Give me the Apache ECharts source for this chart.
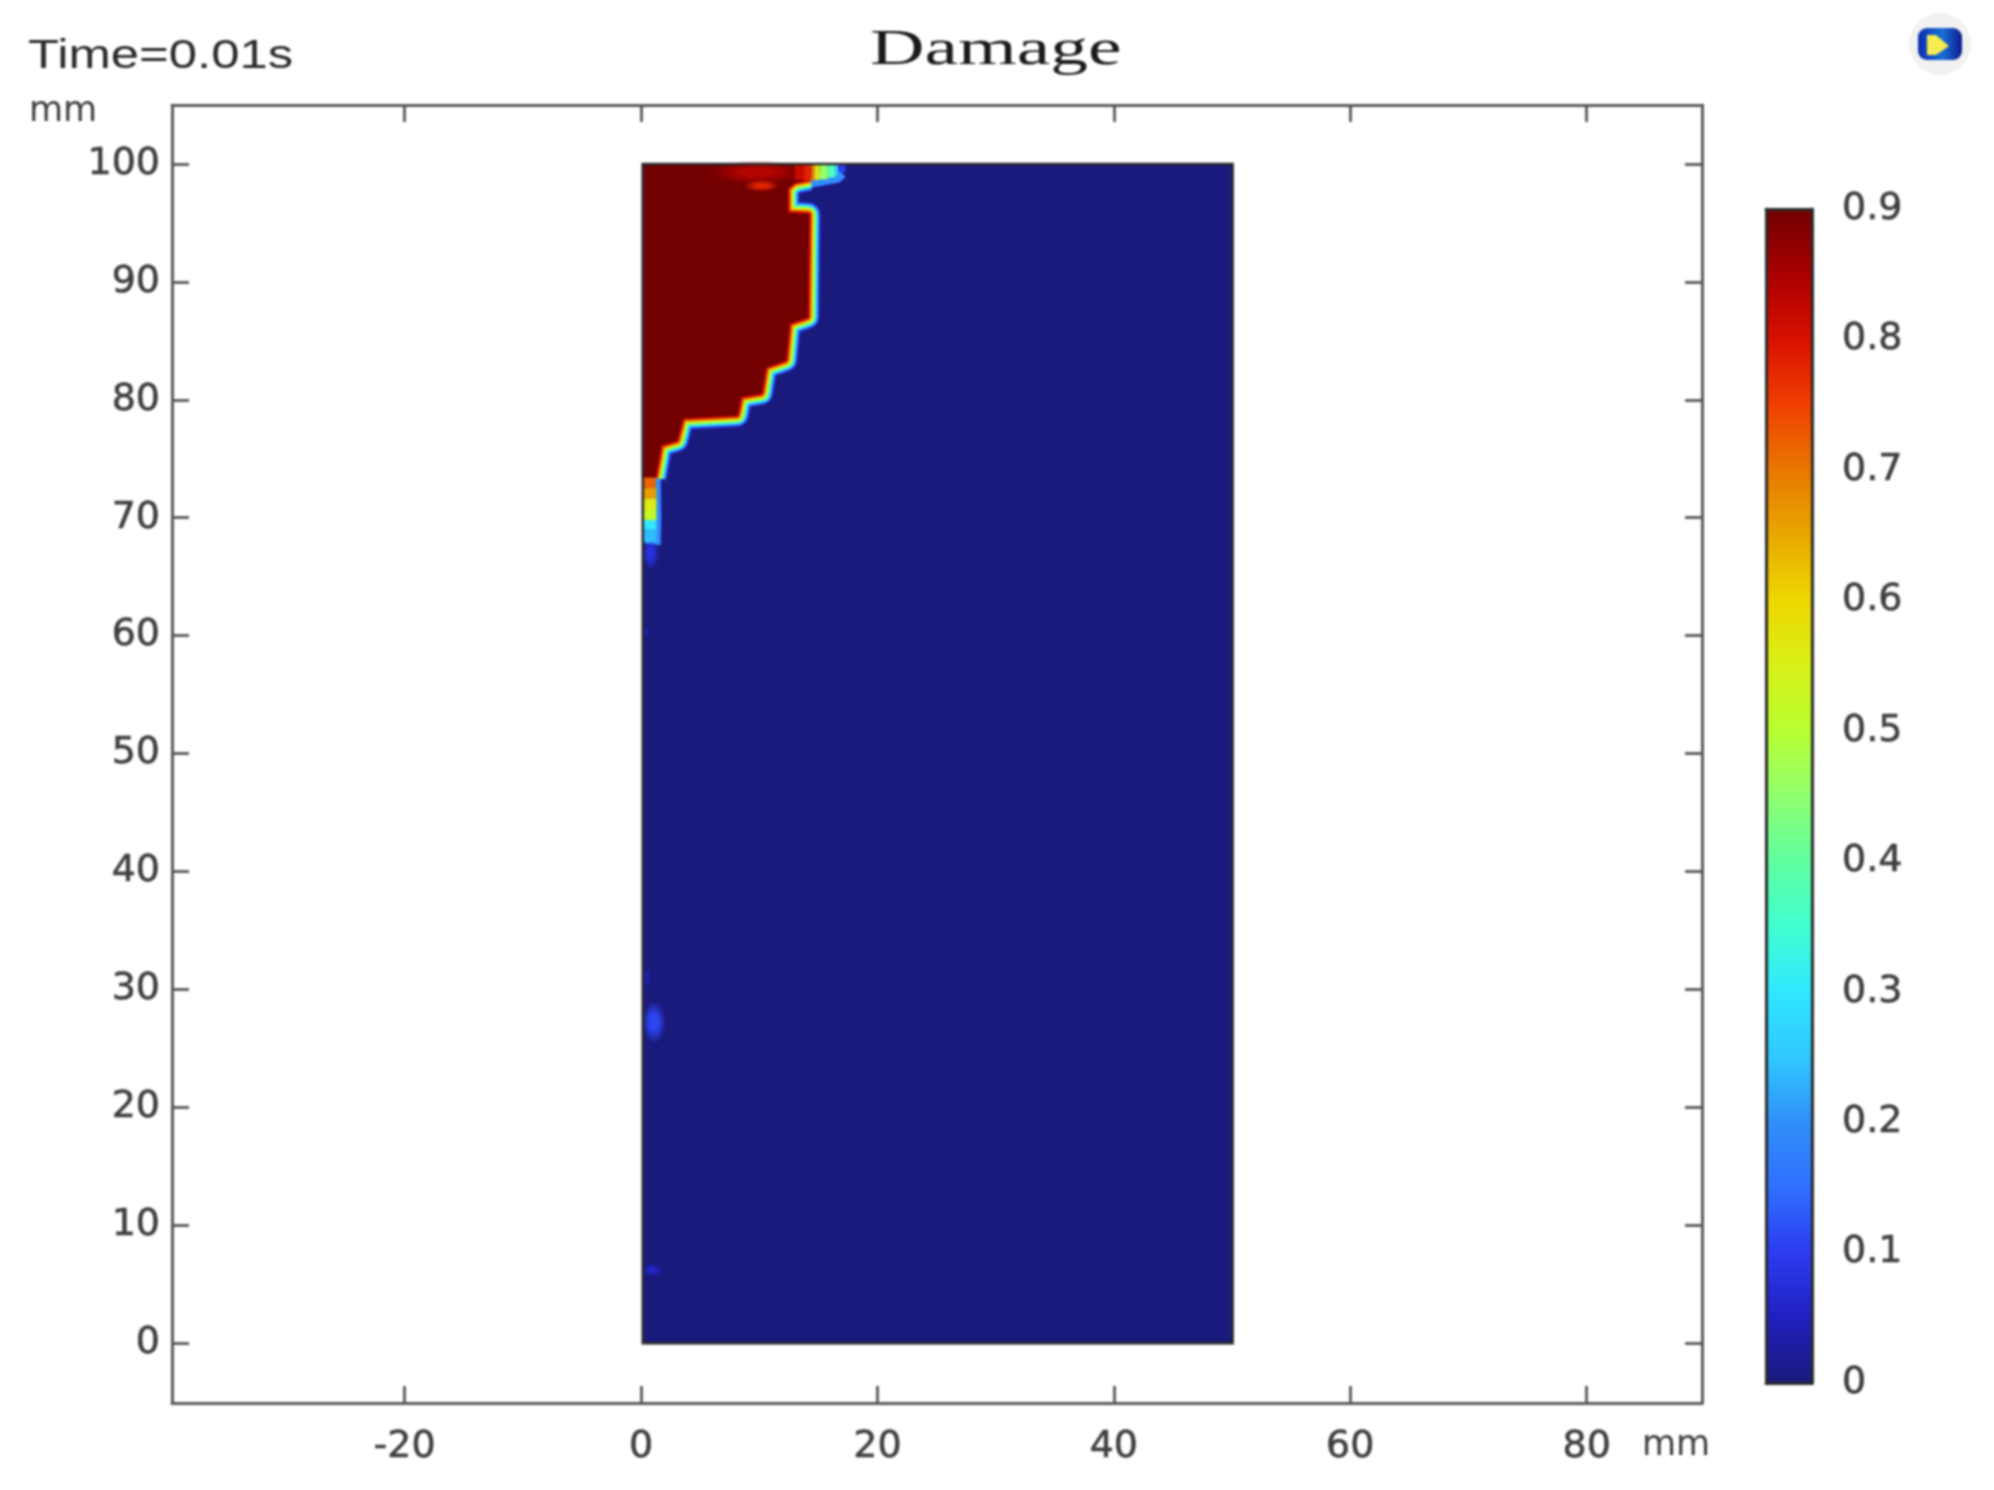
<!DOCTYPE html>
<html>
<head>
<meta charset="utf-8">
<title>Damage</title>
<script src="https://cdn.jsdelivr.net/npm/echarts@6/dist/echarts.min.js"></script>
<style>
html,body{margin:0;padding:0;background:#fff}
#chart{width:1994px;height:1490px;filter:blur(0.9px)}
</style>
</head>
<body>
<div id="chart"></div>
<script>
// ---- axis ticks ----
var xTicks = [-20, 0, 20, 40, 60, 80];
var yTicks = [0, 10, 20, 30, 40, 50, 60, 70, 80, 90, 100];
var barTicks = [0, 0.1, 0.2, 0.3, 0.4, 0.5, 0.6, 0.7, 0.8, 0.9];

// ---- colour scale: [damage, colour] ----
var jetStops = [
  [0, '#1a1a7c'], [0.05, '#2020c0'], [0.1, '#2c3cf0'], [0.15, '#3070ff'], [0.2, '#3090f8'],
  [0.25, '#30c8ff'], [0.3, '#30e8ff'], [0.35, '#40ffd0'], [0.4, '#60ffa0'], [0.45, '#90ff70'],
  [0.5, '#b8ff30'], [0.55, '#d8f018'], [0.6, '#eed800'], [0.65, '#e8a800'], [0.7, '#e87800'],
  [0.75, '#f04000'], [0.8, '#d81000'], [0.85, '#aa0000'], [0.9, '#720000']
];

// ---- specimen extent as read: [xMin, xMax, yMin, yMax, damage] ----
var specimen = [[0.15, 50.05, 0, 100, 0]];

// ---- damage front, mm, from the top edge down to the left edge ----
var damageFront = [
  [14.3, 100], [14.3, 98.75], [13.0, 98.5], [12.35, 97.95], [12.35, 95.8], [14.15, 95.7],
  [14.05, 87.05], [12.5, 86.5], [12.2, 83.4], [10.5, 82.8], [10.15, 80.6], [8.4, 80.3],
  [8.1, 78.75], [3.5, 78.5], [3.0, 76.6], [1.65, 76.2], [1.15, 73.4]
];
var damagedCorners = [[0.15, 73.4], [0.15, 100]];
var contourLevels = [0.1, 0.2, 0.3, 0.4, 0.5, 0.6, 0.7, 0.8];
var damageInside = [[0.9]];

// ---- low-damage fringes of the front ----
var fringeTop = [[16.9, 99.35], [16.5, 99.0], [14.3, 98.6]];
var fringeLeft = [[1.05, 73.4], [1.1, 70], [1.05, 67.7]];
var fringeLevels = [0.1, 0.2];

// ---- damage cells along the front: [xMin, xMax, yMin, yMax, damage] ----
var frontCells = [
  [13.0, 13.8, 98.65, 100, 0.82], [13.8, 14.44, 98.6, 100, 0.78], [14.44, 14.7, 98.6, 100, 0.68],
  [14.7, 15.1, 98.65, 100, 0.58], [15.1, 15.8, 98.7, 100, 0.46], [15.8, 16.4, 98.85, 100, 0.38],
  [16.4, 16.7, 99.0, 100, 0.25], [16.7, 17.3, 99.3, 100, 0.1],
  [0.15, 1.25, 72.5, 73.4, 0.72], [0.15, 1.3, 71.6, 72.5, 0.66], [0.15, 1.3, 70.65, 71.6, 0.56],
  [0.15, 1.3, 69.8, 70.65, 0.52], [0.15, 1.3, 69, 69.8, 0.3], [0.15, 1.3, 67.9, 69, 0.24]
];

// ---- soft spots: [xCentre, yCentre, xRadius, yRadius, damage] ----
var softSpots = [
  [9.8, 99.3, 4.0, 1.0, 0.84], [10.2, 98.15, 1.5, 0.5, 0.78],
  [0.8, 67.0, 0.75, 1.4, 0.08], [1.1, 27.2, 1.0, 1.8, 0.11], [0.95, 6.2, 0.85, 0.55, 0.06],
  [0.45, 60.3, 0.3, 0.5, 0.03], [0.5, 31, 0.35, 1.0, 0.03]
];

function hex2rgb(h) {
  return [parseInt(h.substr(1, 2), 16), parseInt(h.substr(3, 2), 16), parseInt(h.substr(5, 2), 16)];
}
function jetColor(v) {
  for (var i = 1; i < jetStops.length; i++) {
    if (v <= jetStops[i][0]) {
      var a = jetStops[i - 1], b = jetStops[i], t = (v - a[0]) / (b[0] - a[0]);
      var ca = hex2rgb(a[1]), cb = hex2rgb(b[1]);
      return 'rgb(' + ca.map(function (c, k) { return Math.round(c + (cb[k] - c) * t); }).join(',') + ')';
    }
  }
  return jetStops[jetStops.length - 1][1];
}
function fade(color) {
  return color.replace('rgb(', 'rgba(').replace(')', ',0)');
}

function cellRender(params, api) {
  var a = api.coord([api.value(0), api.value(3)]);
  var b = api.coord([api.value(1), api.value(2)]);
  return { type: 'rect', shape: { x: a[0], y: a[1], width: b[0] - a[0], height: b[1] - a[1] },
    style: { fill: jetColor(api.value(4)) } };
}
function spotRender(params, api) {
  var c = api.coord([api.value(0), api.value(1)]);
  var e = api.coord([api.value(0) + api.value(2), api.value(1) + api.value(3)]);
  var rx = e[0] - c[0], ry = c[1] - e[1], col = jetColor(api.value(4));
  return { type: 'circle', x: c[0], y: c[1], scaleX: rx / ry, scaleY: 1,
    shape: { cx: 0, cy: 0, r: ry },
    style: { fill: new echarts.graphic.RadialGradient(0.5, 0.5, 0.5, [
      { offset: 0, color: col }, { offset: 0.35, color: col }, { offset: 1, color: fade(col) }]) } };
}
function insideRender(params, api) {
  var pts = damageFront.concat(damagedCorners).map(function (p) { return api.coord(p); });
  return { type: 'polygon', shape: { points: pts },
    style: { fill: jetColor(api.value(0)), stroke: jetColor(api.value(0)), lineWidth: 2, lineJoin: 'round' } };
}
function borderRender(params, api) {
  var a = api.coord([api.value(0), api.value(3)]);
  var b = api.coord([api.value(1), api.value(2)]);
  return { type: 'rect', shape: { x: a[0], y: a[1], width: b[0] - a[0], height: b[1] - a[1] },
    style: { fill: 'none', stroke: '#2a2a30', lineWidth: 2.6 } };
}
function customSeries(data, render, z, dims) {
  return { type: 'custom', xAxisIndex: 0, yAxisIndex: 0, data: data, renderItem: render, z: z,
    clip: false, silent: true, animation: false,
    encode: dims ? dims : { x: 0, y: 1 } };
}
function contourLine(data, level, spread) {
  return { type: 'line', xAxisIndex: 0, yAxisIndex: 0, data: data, showSymbol: false, symbol: 'none', z: 3,
    silent: true, animation: false, clip: false,
    lineStyle: { color: jetColor(level), width: spread * (1 - level * 1.02) + 1, join: 'round', cap: 'butt' } };
}

var inkColor = '#3e3e3e';
var frameStyle = { show: true, onZero: false, lineStyle: { color: '#5a5a5a', width: 3 } };
var tickStyle = { inside: true, length: 17, lineStyle: { color: '#555555', width: 2.8 } };
var labelFont = { fontFamily: 'DejaVu Sans', fontSize: 38, color: inkColor, textBorderColor: inkColor, textBorderWidth: 0.6 };
var barFrame = { show: true, onZero: false, lineStyle: { color: '#2b2b2b', width: 3 } };
var barTick = { inside: true, length: 11, customValues: barTicks.slice(1, -1), lineStyle: { color: '#1c1c1c', width: 2.8 } };

var xLimits = { min: -39.68, max: 89.76 };
var yLimits = { min: -5.08, max: 105 };

var series = [customSeries(specimen, cellRender, 2)];
fringeLevels.forEach(function (l) {
  series.push(contourLine(fringeTop, l, 16));
  series.push(contourLine(fringeLeft, l, 16));
});
contourLevels.forEach(function (l) { series.push(contourLine(damageFront.slice(1), l, 26)); });
series.push(customSeries(damageInside, insideRender, 4, { x: 0 }));
series.push(customSeries(softSpots, spotRender, 5));
series.push(customSeries(frontCells, cellRender, 6));
series.push(customSeries(specimen, borderRender, 7));
series.push({
  type: 'bar', xAxisIndex: 2, yAxisIndex: 2, data: [0.9], barWidth: '100%', silent: true, animation: false,
  itemStyle: { color: new echarts.graphic.LinearGradient(0, 1, 0, 0, jetStops.map(function (s) {
    return { offset: s[0] / 0.9, color: s[1] };
  })) }
});

var option = {
  backgroundColor: '#ffffff',
  animation: false,
  grid: [
    { left: 172, right: 292, top: 105, bottom: 87 },
    { left: 1766, width: 46, top: 209, height: 1174 }
  ],
  xAxis: [
    { type: 'value', gridIndex: 0, position: 'bottom', min: xLimits.min, max: xLimits.max, splitLine: { show: false },
      axisLine: frameStyle, axisTick: Object.assign({ customValues: xTicks }, tickStyle),
      axisLabel: Object.assign({ customValues: xTicks, margin: 25 }, labelFont) },
    { type: 'value', gridIndex: 0, position: 'top', min: xLimits.min, max: xLimits.max, splitLine: { show: false },
      axisLine: frameStyle, axisTick: Object.assign({ customValues: xTicks }, tickStyle), axisLabel: { show: false } },
    { type: 'category', gridIndex: 1, position: 'bottom', data: ['Damage'], axisLine: barFrame, z: 6,
      axisTick: { show: false }, axisLabel: { show: false } },
    { type: 'category', gridIndex: 1, position: 'top', data: ['Damage'], axisLine: barFrame, z: 6,
      axisTick: { show: false }, axisLabel: { show: false } }
  ],
  yAxis: [
    { type: 'value', gridIndex: 0, position: 'left', min: yLimits.min, max: yLimits.max, splitLine: { show: false },
      axisLine: frameStyle, axisTick: Object.assign({ customValues: yTicks }, tickStyle),
      axisLabel: Object.assign({ customValues: yTicks, margin: 12, padding: [3, 0, 0, 0] }, labelFont) },
    { type: 'value', gridIndex: 0, position: 'right', min: yLimits.min, max: yLimits.max, splitLine: { show: false },
      axisLine: frameStyle, axisTick: Object.assign({ customValues: yTicks }, tickStyle), axisLabel: { show: false } },
    { type: 'value', gridIndex: 1, position: 'right', min: 0, max: 0.9, splitLine: { show: false }, z: 6,
      axisLine: barFrame, axisTick: barTick,
      axisLabel: Object.assign({ customValues: barTicks, margin: 30, padding: [4, 0, 0, 0], formatter: function (v) { return String(v); } }, labelFont) },
    { type: 'value', gridIndex: 1, position: 'left', min: 0, max: 0.9, splitLine: { show: false }, z: 6,
      axisLine: barFrame, axisTick: barTick, axisLabel: { show: false } }
  ],
  graphic: [
    { type: 'text', x: 28, y: 36, scaleX: 1.24, scaleY: 1, silent: true,
      style: { text: 'Time=0.01s', font: '41px "Liberation Sans"', fill: '#2a2a2a' } },
    { type: 'text', x: 870, y: 25, scaleX: 1.48, scaleY: 1, silent: true,
      style: { text: 'Damage', font: '51px "Liberation Serif"', fill: '#1a1a1a' } },
    { type: 'text', x: 29, y: 94, silent: true,
      style: { text: 'mm', font: '35px "DejaVu Sans"', fill: inkColor } },
    { type: 'text', x: 1642, y: 1428, silent: true,
      style: { text: 'mm', font: '35px "DejaVu Sans"', fill: inkColor } },
    { type: 'circle', silent: true, shape: { cx: 1940, cy: 44, r: 31 }, style: { fill: '#f1f1f1' } },
    { type: 'rect', silent: true, shape: { x: 1918, y: 28, width: 44, height: 32, r: 9 },
      style: { fill: new echarts.graphic.LinearGradient(0, 0, 1, 0, [
        { offset: 0, color: '#0a2cb0' }, { offset: 0.55, color: '#1a70d8' }, { offset: 1, color: '#0a1c8c' }]) } },
    { type: 'polygon', silent: true, shape: { points: [[1927, 35], [1936, 35], [1949, 46], [1936, 55], [1927, 55]] },
      style: { fill: '#f6ec50' } }
  ],
  series: series
};

var chart = echarts.init(document.getElementById('chart'), null, { renderer: 'canvas' });
chart.setOption(option);
</script>
</body>
</html>
